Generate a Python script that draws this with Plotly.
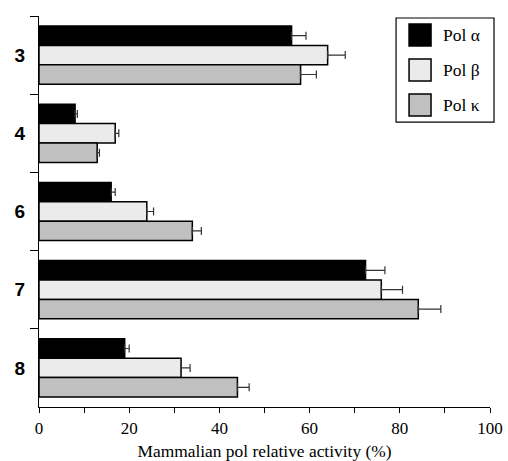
import plotly.graph_objects as go

compounds = ["3", "4", "6", "7", "8"]
series_names = ["Pol \u03b1", "Pol \u03b2", "Pol \u03ba"]
pol_alpha = [56.0, 8.0, 16.0, 72.4, 19.0]
pol_alpha_err = [3.2, 0.5, 0.9, 4.3, 1.0]
pol_beta = [64.0, 16.9, 23.9, 75.9, 31.5]
pol_beta_err = [3.9, 0.8, 1.5, 4.7, 2.0]
pol_kappa = [58.0, 12.9, 34.0, 84.1, 44.0]
pol_kappa_err = [3.5, 0.5, 2.0, 5.0, 2.6]
x_ticks = [0, 20, 40, 60, 80, 100]

colors = ["#000000", "#ebebeb", "#c0c0c0"]
values = [pol_alpha, pol_beta, pol_kappa]
errors = [pol_alpha_err, pol_beta_err, pol_kappa_err]

fig = go.Figure()
for name, vals, errs, col in zip(series_names, values, errors, colors):
    fig.add_trace(go.Bar(
        y=compounds, x=vals, name=name, orientation="h",
        marker=dict(color=col, line=dict(color="black", width=1.5)),
        error_x=dict(type="data", array=errs, arrayminus=[0]*len(errs),
                     symmetric=False, color="#333333", thickness=1.2, width=4),
        showlegend=False,
    ))

W, H = 508, 461
L, R, T, B = 38.7, 18, 16, 54.3
pw, ph = W - L - R, H - T - B

def px_x(p):
    return (p - L) / pw

def px_y(p):
    return (H - B - p) / ph

# manual legend box
shapes = [dict(type="rect", xref="paper", yref="paper",
               x0=px_x(396), x1=px_x(494), y0=px_y(122), y1=px_y(18),
               line=dict(color="black", width=1.2), fillcolor="white")]
annotations = []
sw_tops = [24, 59, 94]
for name, col, top in zip(series_names, colors, sw_tops):
    shapes.append(dict(type="rect", xref="paper", yref="paper",
                       x0=px_x(409), x1=px_x(431), y0=px_y(top + 22), y1=px_y(top),
                       line=dict(color="black", width=1.5), fillcolor=col))
    annotations.append(dict(xref="paper", yref="paper", x=px_x(441), y=px_y(top + 11),
                            text=name, showarrow=False, xanchor="left", yanchor="middle",
                            font=dict(family="Liberation Serif", size=17.5, color="black")))

fig.update_layout(
    width=W, height=H,
    margin=dict(l=L, r=R, t=T, b=B, pad=0, autoexpand=False),
    paper_bgcolor="white", plot_bgcolor="white",
    barmode="group", bargap=0.256, bargroupgap=0.0,
    shapes=shapes, annotations=annotations,
    xaxis=dict(range=[0, 100], tickvals=x_ticks, ticks="outside", ticklen=5,
               tickwidth=1, tickcolor="black", showline=True, linecolor="black",
               linewidth=1.2, showgrid=False, zeroline=False, automargin=False,
               minor=dict(dtick=10, tick0=0, ticks="outside", ticklen=5, tickcolor="black", showgrid=False),
               tickfont=dict(family="Liberation Serif", size=17, color="black"),
               title=dict(text="Mammalian pol relative activity (%)", standoff=12,
                          font=dict(family="Liberation Serif", size=17.4, color="black"))),
    yaxis=dict(type="category", categoryorder="array", categoryarray=compounds,
               range=[4.5, -0.5], tickson="boundaries", ticks="outside", ticklen=8,
               tickcolor="black", tickwidth=1, showline=True, linecolor="black",
               linewidth=1.2, showgrid=False, zeroline=False, ticklabelstandoff=9,
               automargin=False,
               tickfont=dict(family="Liberation Sans", size=19, color="black", weight="bold")),
)

fig.write_html("out.html", config={"displayModeBar": False},
               post_script="document.body.style.margin='0px';document.body.style.overflow='hidden';")
